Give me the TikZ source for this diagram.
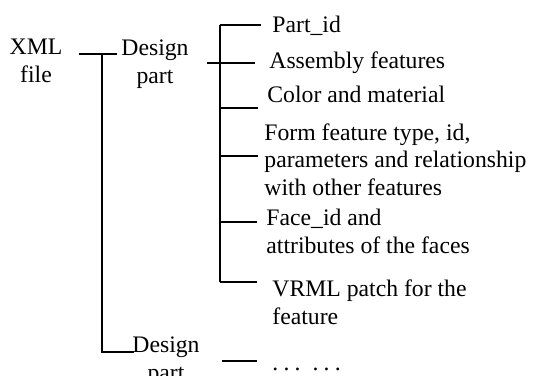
\documentclass[tikz,border=0pt]{standalone}
\usepackage{fontspec}
\setmainfont{Liberation Serif}
\tikzset{
  txt/.style={anchor=base west,inner sep=0pt,align=left,font=\fontsize{11.85}{13.75}\selectfont},
  ctxt/.style={anchor=base,inner sep=0pt,align=center,font=\fontsize{11.85}{14}\selectfont},
  ln/.style={line width=1pt}
}
\begin{document}
\begin{tikzpicture}[x=0.5pt,y=-0.5pt]
\useasboundingbox (0,0) rectangle (533,375);
% texts (base = last line)
\node[ctxt] (xml) at (36,82) {XML\\file};
\node[ctxt] (dp1) at (155,83) {Design\\part};
\node[ctxt] (dp2) at (166,380) {Design\\part};
\node[txt] (pid)  at (272,32)  {Part\_id};
\node[txt] (asm)  at (269,68)  {Assembly features};
\node[txt] (col)  at (267,102) {Color and material};
\node[txt] (form) at (264,195) {Form feature type, id,\\parameters and relationship\\with other features};
\node[txt] (face) at (266,253) {Face\_id and\\attributes of the faces};
\node[txt] (vrml) at (272,324) {VRML patch for the\\feature};
\node[txt] (dots) at (272,370) {.\hspace{2.6pt}.\hspace{2.6pt}.\hspace{6pt}.\hspace{2.6pt}.\hspace{2.6pt}.};
% xml file -> design parts
\coordinate (x0) at (79,54);
\coordinate (x1) at (117,54);
\coordinate (t0) at (102,54);
\coordinate (t1) at (102,352);
\coordinate (t2) at (134,352);
\draw[ln] (x0) -- (x1);
\draw[ln] (t0) -- (t1) -- (t2);
% design part -> items
\coordinate (d0) at (207,63);
\coordinate (d1) at (255,63);
\coordinate (b1) at (220,25);  \coordinate (e1) at (261,25);
\coordinate (b2) at (220,108); \coordinate (e2) at (258,108);
\coordinate (b3) at (220,156); \coordinate (e3) at (258,156);
\coordinate (b4) at (220,222); \coordinate (e4) at (257,222);
\coordinate (b5) at (220,282); \coordinate (e5) at (257,282);
\draw[ln] (d0) -- (d1);
\draw[ln] (b1) -- (b5);
\draw[ln] (b1) -- (e1);
\draw[ln] (b2) -- (e2);
\draw[ln] (b3) -- (e3);
\draw[ln] (b4) -- (e4);
\draw[ln] (b5) -- (e5);
% second design part
\coordinate (d2) at (222,361);
\coordinate (d3) at (257,361);
\draw[ln] (d2) -- (d3);
\end{tikzpicture}
\end{document}
